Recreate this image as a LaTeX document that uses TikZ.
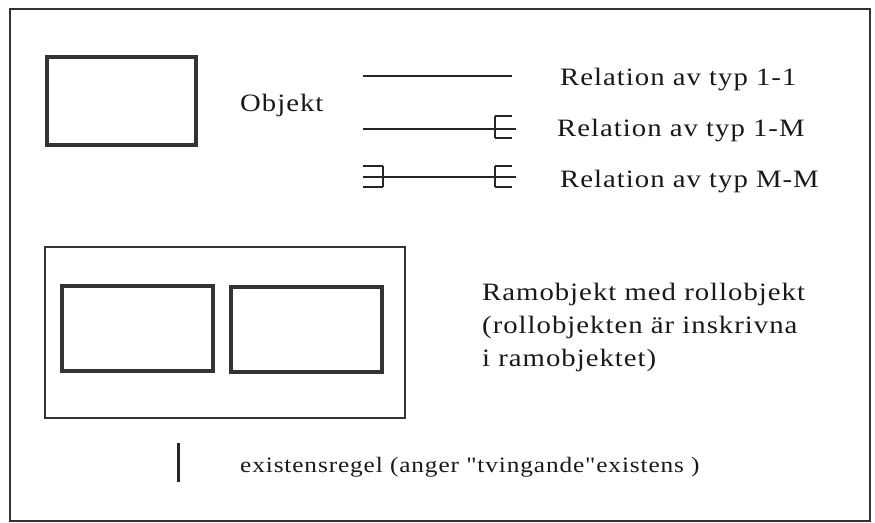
\documentclass[tikz,border=0pt]{standalone}
\usepackage{fontspec}
\setmainfont{Liberation Serif}[Ligatures=TeXOff, FakeStretch=1.15, LetterSpace=4]
\begin{document}
\begin{tikzpicture}[x=1pt, y=-1pt,
  frame/.style={draw=black!80, line width=1.6pt},
  thinbox/.style={draw=black!80, line width=1.6pt, rectangle, inner sep=0pt},
  objbox/.style={draw=black!80, line width=3.6pt, rectangle, inner sep=0pt},
  rel/.style={draw=black!85, line width=1.4pt},
  lbl/.style={anchor=base west, inner sep=0pt, text=black!90,
              font=\fontsize{25}{33}\selectfont, align=left},
]
\useasboundingbox (0,0) rectangle (875,522);

% outer frame
\draw[frame] (10,9) rectangle (870,521);

% object symbol
\node[objbox, minimum width=149pt, minimum height=88pt] (objekt) at (121.5,101) {};
\node[lbl] (objektlbl) at (240,111) {Objekt};

% relation 1-1
\coordinate (a1) at (363,76);
\coordinate (b1) at (512,76);
\draw[rel] (a1) -- (b1);
\node[lbl] (rel11) at (560,85) {Relation av typ 1-1};

% relation 1-M
\coordinate (a2) at (363,129);
\coordinate (b2) at (516,129);
\coordinate (f2t) at (495,116);
\coordinate (f2b) at (495,138);
\draw[rel] (a2) -- (b2);
\draw[rel] (f2t) -- (f2b);
\draw[rel] (f2t) -- ++(17,0);
\draw[rel] (f2b) -- ++(17,0);
\node[lbl] (rel1m) at (557,136) {Relation av typ 1-M};

% relation M-M
\coordinate (a3) at (363,177);
\coordinate (b3) at (516,177);
\coordinate (f3t) at (495,166);
\coordinate (f3b) at (495,187);
\coordinate (g3t) at (383,166);
\coordinate (g3b) at (383,187);
\draw[rel] (a3) -- (b3);
\draw[rel] (f3t) -- (f3b);
\draw[rel] (f3t) -- ++(17,0);
\draw[rel] (f3b) -- ++(17,0);
\draw[rel] (g3t) -- (g3b);
\draw[rel] (g3t) -- ++(-20,0);
\draw[rel] (g3b) -- ++(-20,0);
\node[lbl] (relmm) at (560,187) {Relation av typ M-M};

% frame object with role objects
\node[thinbox, minimum width=360pt, minimum height=171pt] (ram) at (225,332.5) {};
\node[objbox, minimum width=151pt, minimum height=85pt] (roll1) at (137.5,328.5) {};
\node[objbox, minimum width=151pt, minimum height=85pt] (roll2) at (306.5,329.5) {};
\node[lbl] (ramlbl) at (482,366)
  {Ramobjekt med rollobjekt\\(rollobjekten är inskrivna\\i ramobjektet)};

% existence rule
\coordinate (e1) at (178,443);
\coordinate (e2) at (178,482);
\draw[draw=black!85, line width=3pt] (e1) -- (e2);
\node[lbl, font=\fontsize{22}{26}\selectfont] (exist) at (240,472)
  {existensregel (anger "tvingande"existens )};
\end{tikzpicture}
\end{document}
